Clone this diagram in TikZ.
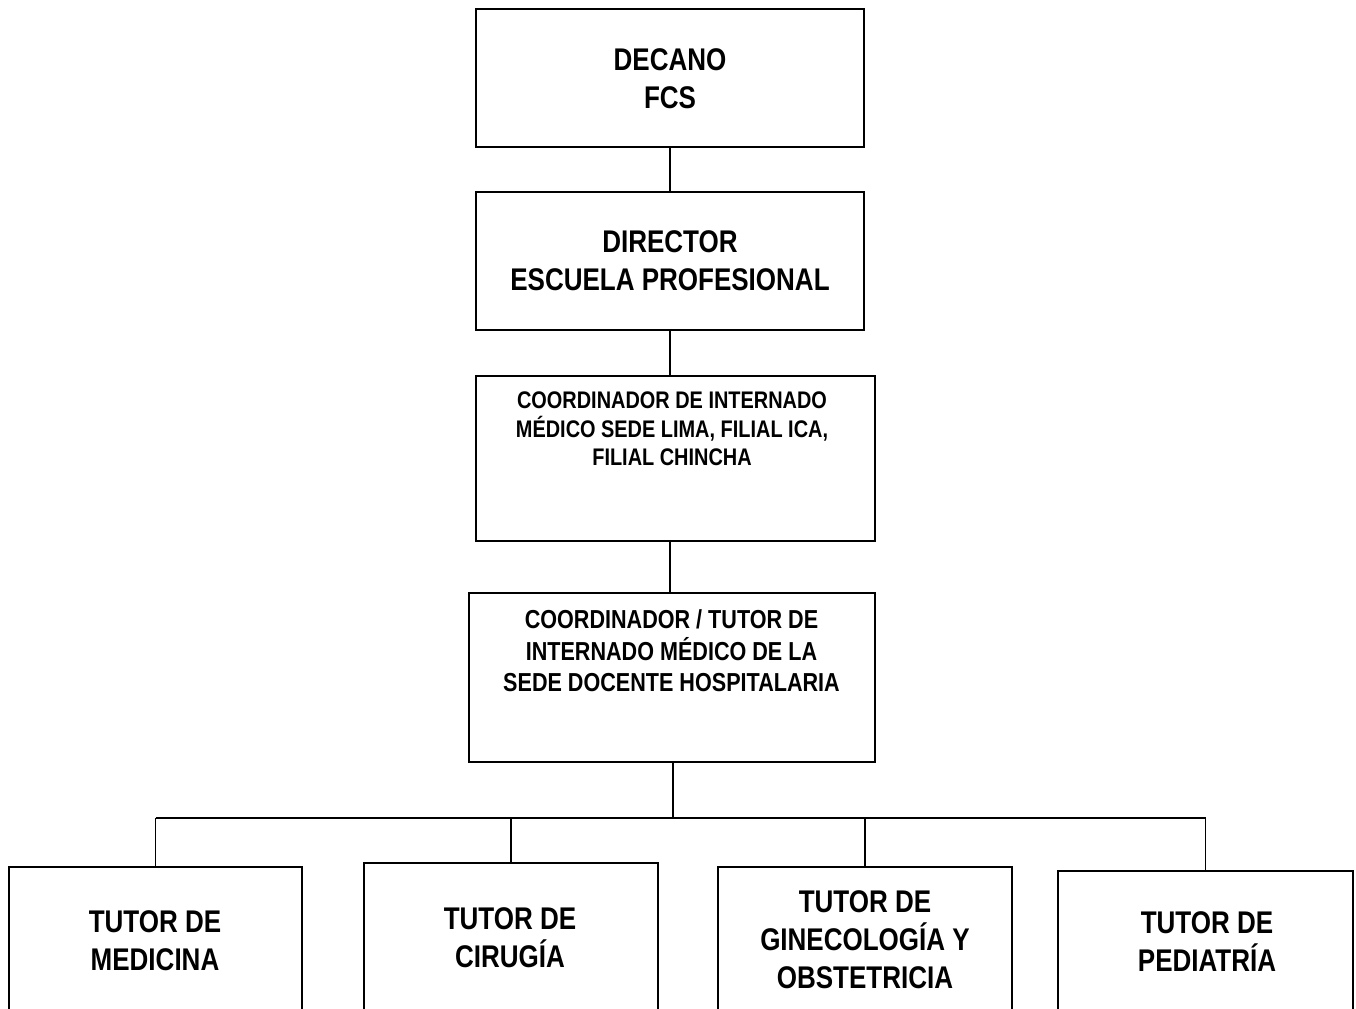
\documentclass[tikz,border=0pt]{standalone}
\usepackage{fontspec}
\setmainfont{Liberation Sans}[FakeStretch=0.83]
\usepackage{tikz}

\tikzset{
  box/.style 2 args={draw, line width=1.5pt, inner sep=0pt,
    minimum width=#1*0.75pt, minimum height=#2*0.75pt},
  big/.style={align=center, font=\bfseries\fontsize{23.5}{28.5}\selectfont},
  mid/.style={align=center, font=\bfseries\fontsize{19.5}{23.5}\selectfont},
  small/.style={align=center, font=\bfseries\fontsize{18}{21.5}\selectfont},
  link/.style={line width=1.1pt}
}

\begin{document}
\begin{tikzpicture}[x=0.75pt, y=-0.75pt]
  \useasboundingbox (0,0) rectangle (1356,1009);
  \clip (0,0) rectangle (1356,1009);
  % boxes
  \node[box={388}{138}] (decano) at (670,78) {};
  \node[box={388}{138}] (director) at (670,261) {};
  \node[box={399}{165}] (coordint) at (675.5,458.5) {};
  \node[box={406}{169}] (tutorsede) at (672,677.5) {};
  \node[box={293}{200}, anchor=north] (medicina) at (155.5,866) {};
  \node[box={294}{200}, anchor=north] (cirugia) at (511,862) {};
  \node[box={294}{200}, anchor=north] (gineco) at (865,866) {};
  \node[box={295}{200}, anchor=north] (pediatria) at (1205.5,870) {};
  % texts
  \node[big] (tdecano) at (670,79) {DECANO\\FCS};
  \node[big] (tdirector) at (670,261) {DIRECTOR\\ESCUELA PROFESIONAL};
  \node[small] (tcoordint) at (672,429) {COORDINADOR DE INTERNADO\\MÉDICO SEDE LIMA, FILIAL ICA,\\FILIAL CHINCHA};
  \node[mid] (ttutorsede) at (671.5,651) {COORDINADOR / TUTOR DE\\INTERNADO MÉDICO DE LA\\SEDE DOCENTE HOSPITALARIA};
  \node[big] (tmedicina) at (155,941) {TUTOR DE\\MEDICINA};
  \node[big] (tcirugia) at (510,938) {TUTOR DE\\CIRUGÍA};
  \node[big] (tgineco) at (865,940) {TUTOR DE\\GINECOLOGÍA Y\\OBSTETRICIA};
  \node[big] (tpediatria) at (1207,942) {TUTOR DE\\PEDIATRÍA};
  % links
  \coordinate (bus) at (673,818);
  \draw[link] (decano.south) -- (director.north);
  \draw[link] (director.south) -- (director.south |- coordint.north);
  \draw[link] (director.south |- coordint.south) -- (director.south |- tutorsede.north);
  \draw[link] (bus |- tutorsede.south) -- (bus);
  \draw[link] (medicina.north |- bus) -- (pediatria.north |- bus);
  \foreach \b in {medicina,cirugia,gineco,pediatria}
    \draw[link] (\b.north |- bus) -- (\b.north);
\end{tikzpicture}
\end{document}
